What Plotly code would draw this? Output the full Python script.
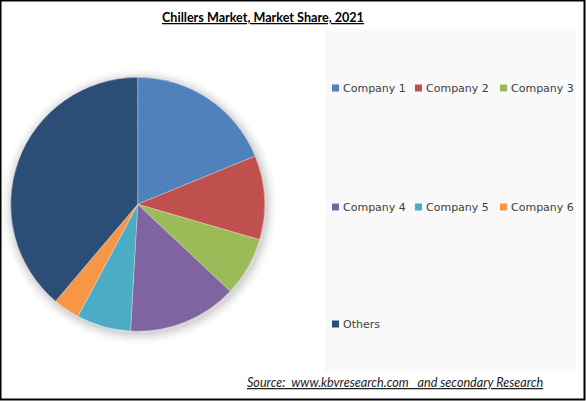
import plotly.graph_objects as go

W, H = 586, 401

categories = ["Company 1", "Company 2", "Company 3", "Company 4", "Company 5", "Company 6", "Others"]
shares = [18.8, 10.7, 7.5, 13.9, 6.9, 3.4, 38.8]
colors = ["#4F81BD", "#C0504D", "#9BBB59", "#8064A2", "#4BACC6", "#F79646", "#2C4D75"]

title_text = "Chillers Market, Market Share, 2021"
source_text = "Source:  www.kbvresearch.com   and secondary Research"

def px_x(x):
    return x / W

def px_y(y):
    return 1 - y / H

# pie geometry (pixels)
cx, cy, r = 137.7, 204.3, 127

fig = go.Figure()
fig.add_trace(go.Pie(
    labels=categories,
    values=shares,
    sort=False,
    direction="clockwise",
    rotation=0,
    marker=dict(colors=colors, line=dict(color="rgba(255,255,255,0.5)", width=0.6)),
    textinfo="none",
    hoverinfo="label+percent",
    showlegend=False,
    domain=dict(x=[px_x(cx - r), px_x(cx + r)], y=[px_y(cy + r), px_y(cy - r)]),
))

shapes = []
# legend box background
shapes.append(dict(type="rect", xref="paper", yref="paper",
                   x0=px_x(325), x1=px_x(576), y0=px_y(372), y1=px_y(29),
                   fillcolor="#F9F9F9", line=dict(width=0), layer="below"))
# soft shadow around pie
for i, op in enumerate([0.05, 0.04, 0.03, 0.02, 0.015]):
    rr = r + 2 + i * 2.2
    sx, sy = cx + 1.5, cy + 2
    shapes.append(dict(type="circle", xref="paper", yref="paper",
                       x0=px_x(sx - rr), x1=px_x(sx + rr), y0=px_y(sy + rr), y1=px_y(sy - rr),
                       fillcolor=f"rgba(0,0,0,{op})", line=dict(width=0), layer="below"))
# outer frame
shapes.append(dict(type="rect", xref="paper", yref="paper",
                   x0=px_x(0.5), x1=px_x(584.5), y0=px_y(399.5), y1=px_y(0.5),
                   line=dict(color="black", width=2), fillcolor="rgba(0,0,0,0)"))

annotations = []
# legend entries (rows with up to 3 columns)
col_x = [332, 415, 500]
row_y = [88, 207, 324]
for i, (name, col) in enumerate(zip(categories, colors)):
    rx = col_x[i % 3]
    ry = row_y[i // 3]
    shapes.append(dict(type="rect", xref="paper", yref="paper",
                       x0=px_x(rx), x1=px_x(rx + 7), y0=px_y(ry + 3.5), y1=px_y(ry - 3.5),
                       fillcolor=col, line=dict(width=0)))
    annotations.append(dict(x=px_x(rx + 9), y=px_y(ry), xref="paper", yref="paper",
                            text=name, showarrow=False, xanchor="left", yanchor="middle",
                            font=dict(family="DejaVu Sans", size=11, color="#404040")))

annotations.append(dict(x=px_x(263), y=px_y(17), xref="paper", yref="paper",
                        text=f"<b>{title_text}</b>", showarrow=False,
                        xanchor="center", yanchor="middle",
                        font=dict(family="Lato", size=12.6, color="black", lineposition="under")))
annotations.append(dict(x=px_x(395), y=px_y(382), xref="paper", yref="paper",
                        text=f"<i>{source_text}</i>", showarrow=False,
                        xanchor="center", yanchor="middle",
                        font=dict(family="Lato", size=12.6, color="#222222", lineposition="under")))

fig.update_layout(
    width=W, height=H,
    margin=dict(l=0, r=0, t=0, b=0),
    paper_bgcolor="white",
    plot_bgcolor="white",
    shapes=shapes,
    annotations=annotations,
)

fig.write_html(
    "out.html",
    config={"displayModeBar": False},
    post_script="document.body.style.margin='0';document.body.style.padding='0';document.body.style.overflow='hidden';",
)
